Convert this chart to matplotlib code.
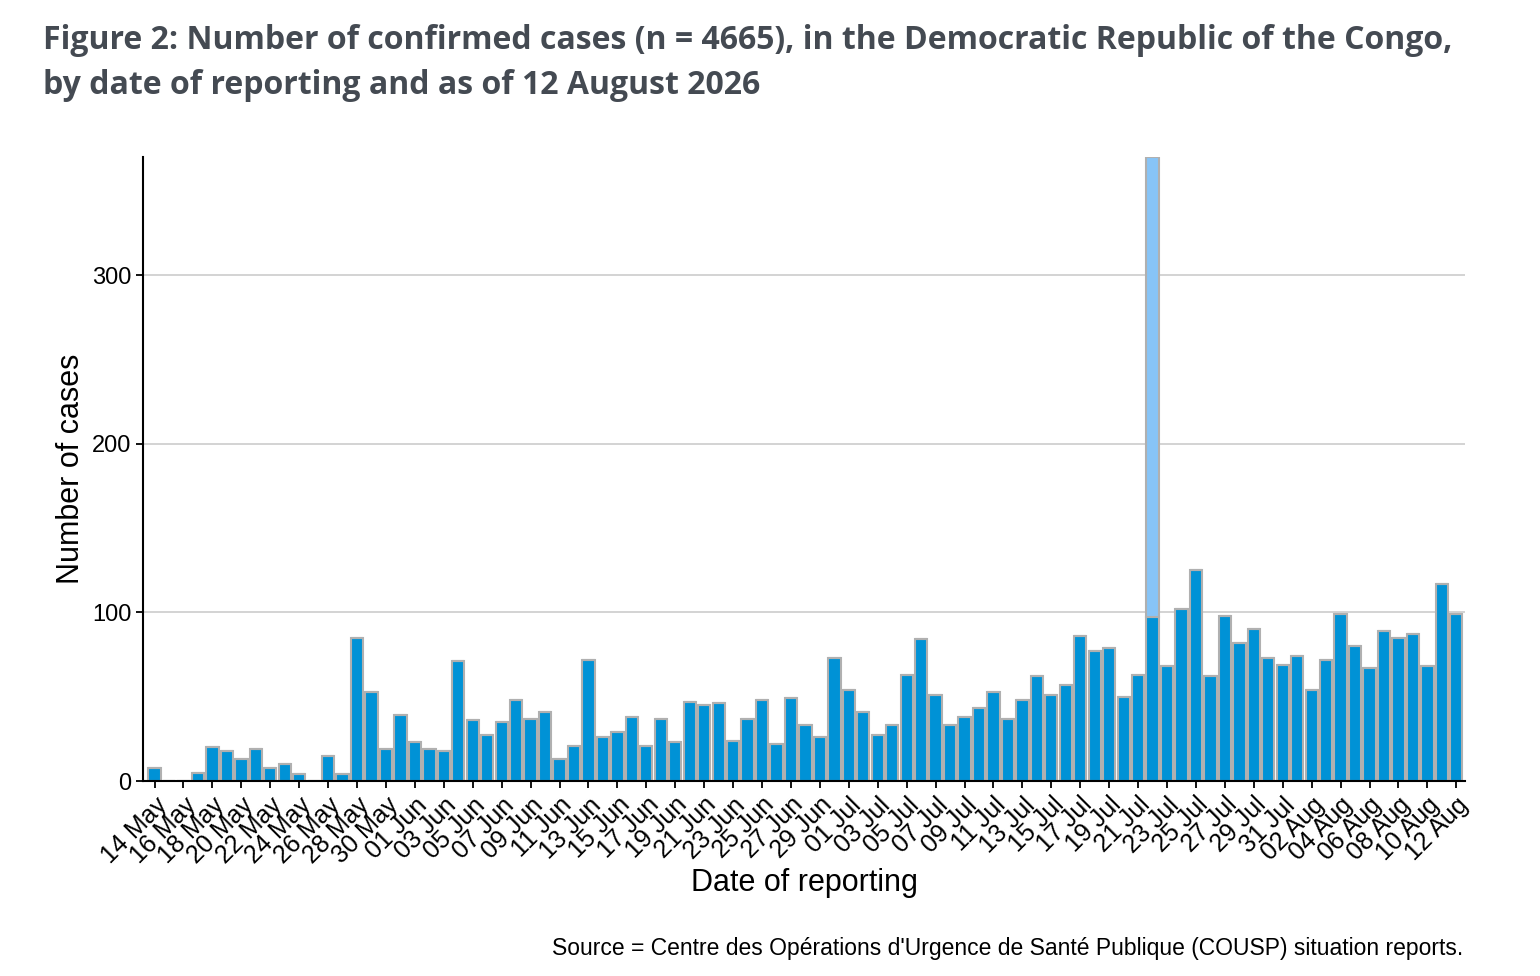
import numpy as np
import pandas as pd
from matplotlib import pyplot as plt

plt.rcParams['font.family'] = ['Liberation Sans', 'DejaVu Sans']

fechas = pd.date_range('2026-05-14', '2026-08-12', freq='D')
casos = [8, 0, 0, 5, 20, 18, 13, 19, 8, 10, 4, 0, 15, 4, 85, 53, 19, 39,
         23, 19, 18, 71, 36, 27, 35, 48, 37, 41, 13, 21, 72, 26, 29, 38, 21,
         37, 23, 47, 45, 46, 24, 37, 48, 22, 49, 33, 26, 73,
         54, 41, 27, 33, 63, 84, 51, 33, 38, 43, 53, 37, 48, 62, 51, 57, 86,
         77, 79, 50, 63, 97, 68, 102, 125, 62, 98, 82, 90, 73, 69,
         74, 54, 72, 99, 80, 67, 89, 85, 87, 68, 117, 99]
# extra cases reported on a single day (light bar on top)
extra = np.zeros(len(casos))
extra[fechas.get_loc(pd.Timestamp('2026-07-22'))] = 273

x = np.arange(len(casos))
fig = plt.figure(figsize=(15.4, 9.76), dpi=100)
ax = fig.add_axes([143/1540, 1-781/976, (1465-143)/1540, (781-157)/976])
ax.bar(x, casos, width=0.85, color='#0092d6', edgecolor='#b0b0b0', linewidth=1.5)
ax.bar(x, extra, bottom=casos, width=0.85, color='#87c4f7', edgecolor='#b0b0b0', linewidth=1.5)

ax.set_xlim(-0.8, len(casos) - 0.4)
ax.set_ylim(0, 370)
ax.set_yticks([0, 100, 200, 300])
ax.yaxis.grid(True, color='#d0d0d0', linewidth=1.3)
ax.set_axisbelow(True)
for s in ['top', 'right']:
    ax.spines[s].set_visible(False)
ax.spines['left'].set_linewidth(1.5)
ax.spines['bottom'].set_linewidth(1.5)

ax.set_xticks(x[::2])
ax.set_xticklabels([d.strftime('%d %b') for d in fechas[::2]], rotation=45,
                   ha='right', rotation_mode='anchor', fontsize=18)
ax.tick_params(axis='y', labelsize=17, length=5, width=1.3)
ax.tick_params(axis='x', length=5, width=1.3)
ax.set_ylabel('Number of cases', fontsize=22)
ax.set_xlabel('Date of reporting', fontsize=22, labelpad=0)

fig.text(0.028, 0.975, 'Figure 2: Number of confirmed cases (n = 4665), in the Democratic Republic of the Congo,\nby date of reporting and as of 12 August 2026',
         fontsize=23, fontweight='bold', color='#444a52', family='Open Sans', va='top', linespacing=1.45)
fig.text(0.95, 0.028, "Source = Centre des Opérations d'Urgence de Santé Publique (COUSP) situation reports.",
         fontsize=16.5, ha='right', va='center')

fig.savefig('out.png', dpi=100)
